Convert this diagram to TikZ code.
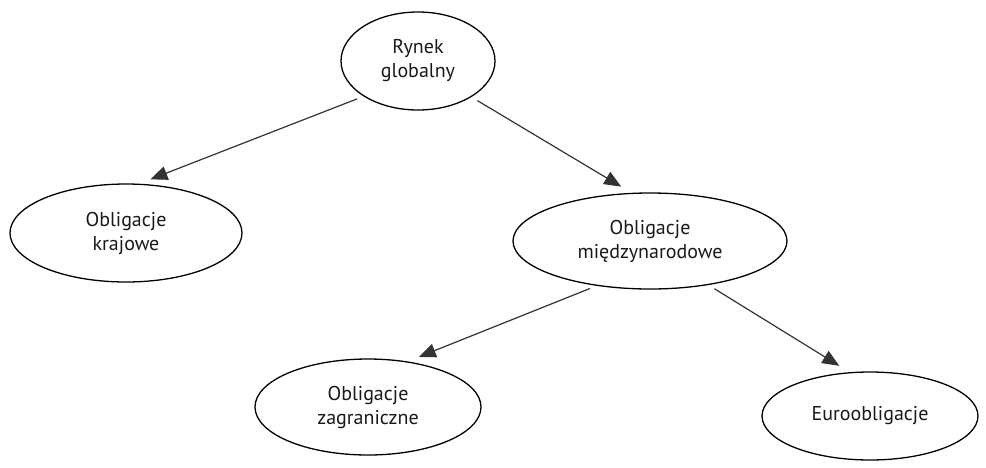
\documentclass[tikz,border=0pt]{standalone}
\usepackage{fontspec}
\setmainfont{PT Sans}
\usetikzlibrary{shapes.geometric,arrows.meta}

\begin{document}
\begin{tikzpicture}[x=1pt,y=-1pt,
    bond/.style={ellipse,draw,line width=1.3pt,inner sep=0pt,align=center,
      font=\fontsize{20}{24}\selectfont,text=black!90},
    link/.style={draw=black!80,line width=1.2pt,-{Triangle[length=17pt,width=14pt]},
      shorten <=7pt,shorten >=12pt}]
    \useasboundingbox (0,0) rectangle (986,467);

    % top level
    \node[bond,minimum width=154pt,minimum height=98pt] (rynek) at (418,61) {Rynek\\globalny};

    % second level
    \node[bond,minimum width=232pt,minimum height=98pt] (kraj) at (126,233) {Obligacje\\krajowe};
    \node[bond,minimum width=274pt,minimum height=96pt] (miedz) at (650,241) {Obligacje\\międzynarodowe};

    % third level
    \node[bond,minimum width=226pt,minimum height=96pt] (zagr) at (368,407) {Obligacje\\zagraniczne};
    \node[bond,minimum width=216pt,minimum height=88pt] (euro) at (870,416) {Euroobligacje};

    \draw[link] (rynek.213) -- (kraj.75);
    \draw[link] (rynek.326) -- (miedz.111);
    \draw[link] (miedz.220) -- (zagr.49);
    \draw[link] (miedz.323) -- (euro.115);
\end{tikzpicture}
\end{document}
